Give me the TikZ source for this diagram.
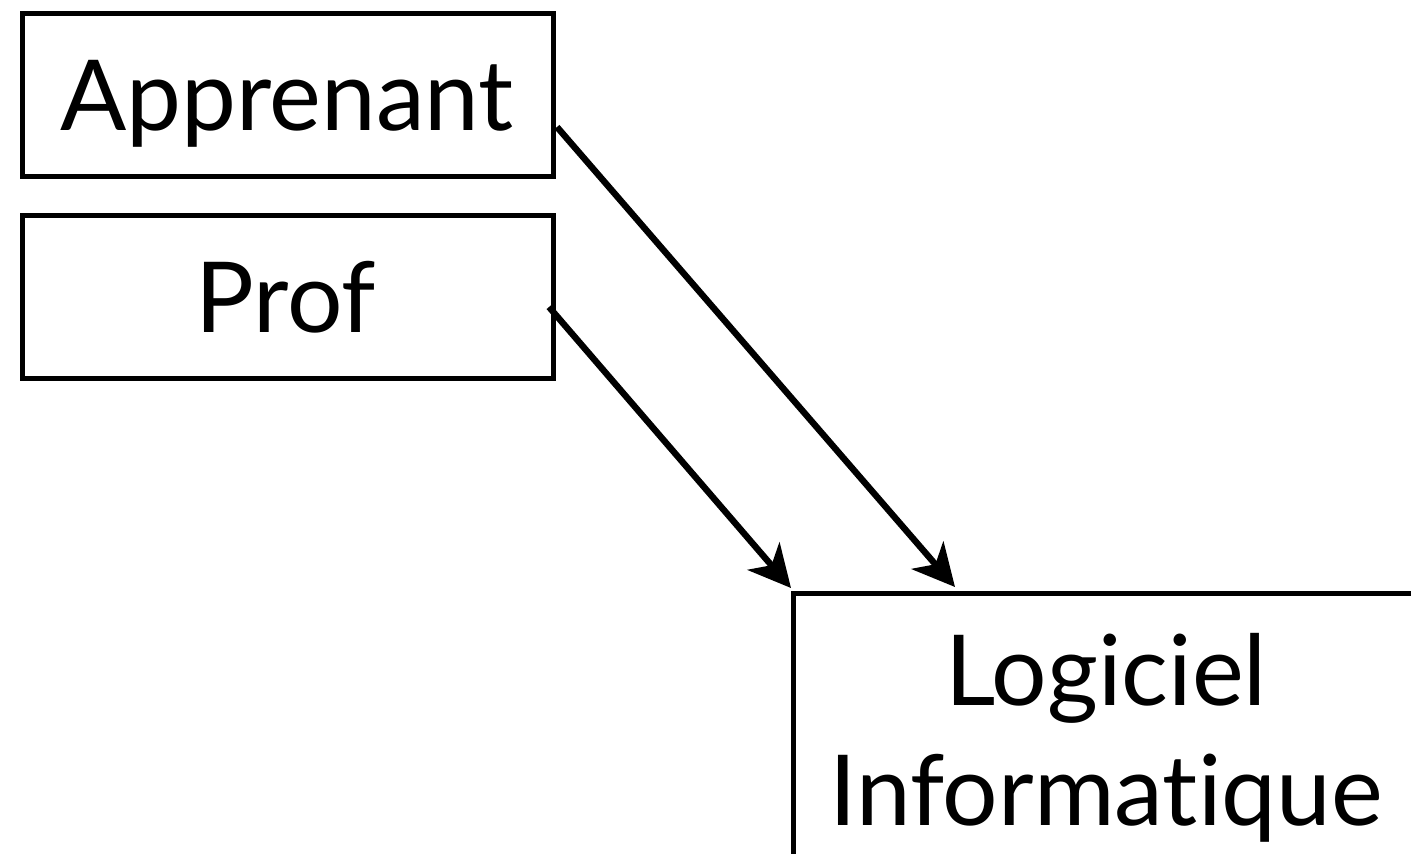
\documentclass[tikz,border=0pt]{standalone}
\usepackage{fontspec}
\setmainfont{Lato}[Ligatures=NoCommon]
\usetikzlibrary{arrows.meta,calc}
\tikzset{
  box/.style={draw=black, line width=2.3pt, inner sep=0pt},
  lbl/.style={font=\fontsize{49}{60}\selectfont, inner sep=0pt},
  arr/.style={line width=3.2pt, -{Stealth[length=21pt,width=21pt,inset=6pt]}},
}
\begin{document}
\begin{tikzpicture}[x=0.5pt,y=-0.5pt]
\useasboundingbox (0,0) rectangle (1411,853);
\node[box, minimum width=265.5pt, minimum height=81.5pt, anchor=north west] (apprenant) at (20,11) {};
\node[lbl, anchor=base] (apptext) at (287,130) {Apprenant};
\node[box, minimum width=265.5pt, minimum height=81.5pt, anchor=north west] (prof) at (20,213) {};
\node[lbl, anchor=base] (proftext) at (286,332) {Prof};
\node[box, minimum width=315pt, minimum height=200pt, anchor=north west] (logiciel) at (791,591) {};
\node[lbl, anchor=base] (logtext) at (1106,705) {Logiciel};
\node[lbl, anchor=base] (logtext2) at (1106,825) {Informatique};
\coordinate (s1) at (557,127);
\coordinate (s2) at (549,307);
\draw[arr] (s1) -- ($(logiciel.north west)+(164,-4)$);
\draw[arr] (s2) -- ($(logiciel.north west)+(0,-3)$);
\end{tikzpicture}
\end{document}
